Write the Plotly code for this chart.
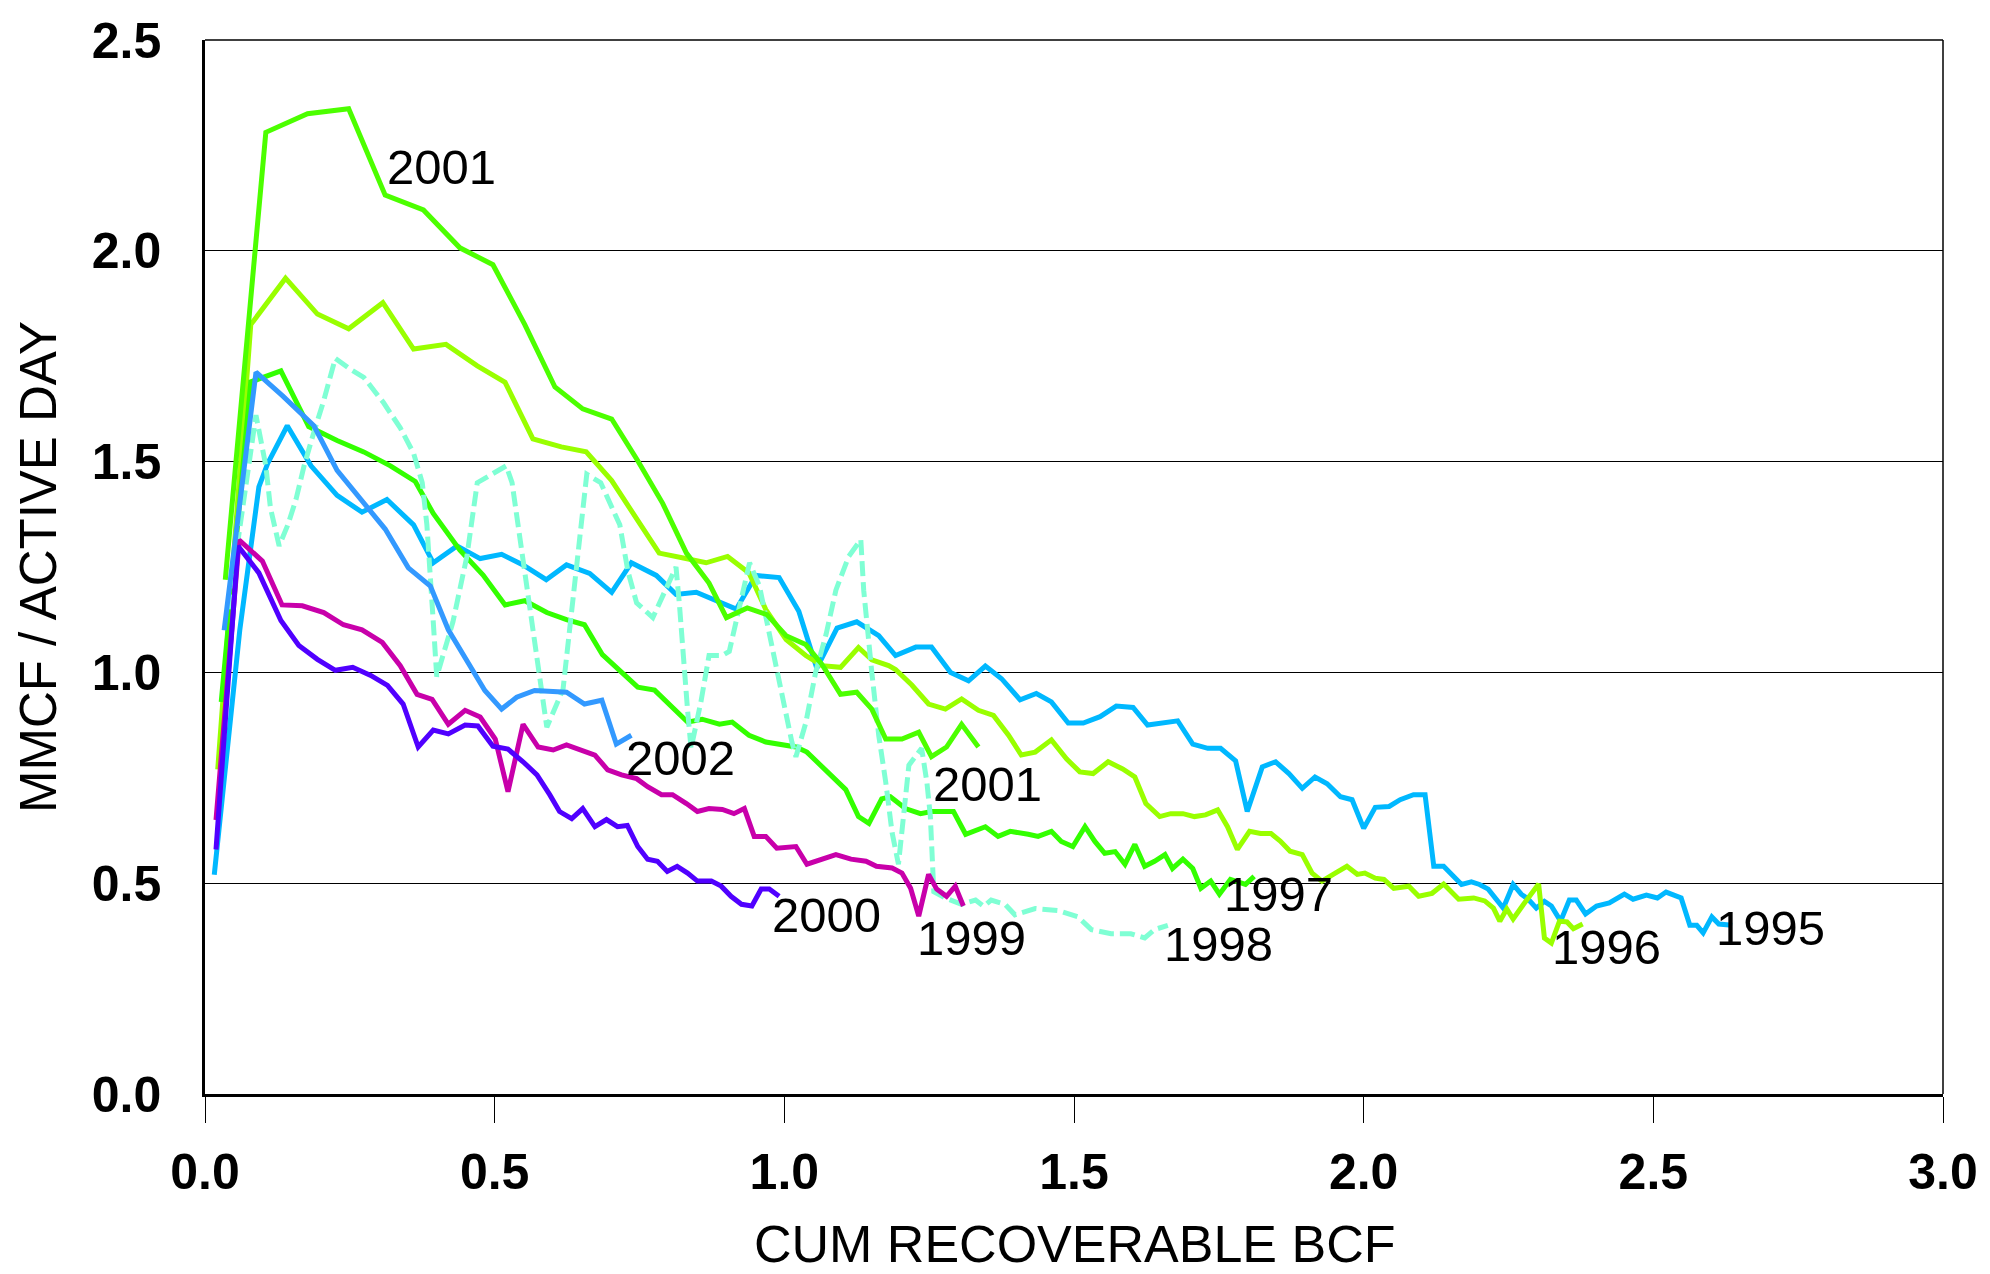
import plotly.graph_objects as go

# ---------------- data ----------------
x_1995 = [0.016,0.06,0.093,0.108,0.142,0.183,0.228,0.271,0.314,0.36,0.394,0.435,0.475,0.512,0.549,0.589,0.624,0.664,0.702,0.736,0.779,0.813,0.848,0.882,0.917,0.951,0.991,1.025,1.056,1.091,1.125,1.163,1.192,1.227,1.254,1.287,1.318,1.347,1.375,1.407,1.435,1.461,1.49,1.516,1.545,1.573,1.602,1.627,1.653,1.679,1.705,1.731,1.753,1.779,1.799,1.825,1.848,1.871,1.894,1.916,1.937,1.96,1.98,2.0,2.02,2.044,2.063,2.086,2.106,2.121,2.138,2.155,2.169,2.186,2.2,2.215,2.23,2.241,2.258,2.272,2.284,2.298,2.312,2.324,2.34,2.355,2.367,2.383,2.402,2.424,2.45,2.465,2.488,2.507,2.522,2.548,2.563,2.575,2.586,2.601,2.613,2.636]
y_1995 = [0.52,1.10,1.44,1.495,1.585,1.49,1.42,1.38,1.41,1.35,1.26,1.30,1.27,1.28,1.255,1.22,1.255,1.235,1.19,1.26,1.23,1.185,1.19,1.17,1.15,1.23,1.225,1.145,1.01,1.105,1.12,1.087,1.04,1.06,1.06,1.0,0.98,1.015,0.985,0.935,0.95,0.93,0.88,0.88,0.895,0.92,0.917,0.875,0.88,0.885,0.83,0.82,0.82,0.79,0.67,0.776,0.788,0.76,0.725,0.752,0.736,0.705,0.698,0.63,0.68,0.682,0.698,0.71,0.71,0.54,0.54,0.517,0.497,0.503,0.497,0.486,0.462,0.441,0.497,0.474,0.462,0.441,0.457,0.446,0.41,0.46,0.46,0.427,0.446,0.453,0.474,0.462,0.472,0.465,0.479,0.465,0.40,0.40,0.382,0.42,0.403,0.40]

x_1996 = [0.022,0.079,0.139,0.194,0.248,0.307,0.36,0.416,0.47,0.518,0.566,0.615,0.658,0.702,0.75,0.784,0.83,0.865,0.902,0.939,0.968,1.003,1.037,1.065,1.097,1.128,1.151,1.18,1.192,1.22,1.249,1.278,1.306,1.335,1.361,1.387,1.409,1.433,1.461,1.487,1.51,1.533,1.559,1.584,1.605,1.624,1.648,1.667,1.688,1.708,1.727,1.748,1.765,1.782,1.803,1.822,1.84,1.856,1.873,1.894,1.911,1.928,1.951,1.971,1.989,2.002,2.02,2.035,2.052,2.078,2.095,2.118,2.138,2.164,2.19,2.209,2.224,2.235,2.247,2.258,2.276,2.302,2.312,2.324,2.338,2.351,2.362,2.378]
y_1996 = [0.77,1.825,1.935,1.85,1.815,1.877,1.767,1.778,1.727,1.688,1.554,1.535,1.523,1.455,1.354,1.283,1.27,1.26,1.275,1.236,1.149,1.078,1.04,1.016,1.012,1.059,1.03,1.016,1.007,0.97,0.925,0.913,0.937,0.91,0.898,0.851,0.804,0.811,0.84,0.795,0.764,0.76,0.788,0.771,0.752,0.689,0.658,0.665,0.665,0.658,0.662,0.674,0.634,0.58,0.623,0.618,0.618,0.60,0.576,0.568,0.524,0.505,0.524,0.54,0.521,0.524,0.512,0.509,0.488,0.493,0.469,0.476,0.498,0.462,0.465,0.458,0.441,0.41,0.439,0.415,0.45,0.498,0.37,0.358,0.41,0.408,0.392,0.403]

x_1997 = [0.028,0.079,0.131,0.179,0.228,0.274,0.32,0.363,0.394,0.44,0.48,0.518,0.552,0.59,0.624,0.655,0.686,0.719,0.747,0.776,0.805,0.833,0.858,0.888,0.91,0.939,0.968,0.996,1.02,1.039,1.072,1.106,1.128,1.146,1.168,1.183,1.209,1.235,1.254,1.292,1.313,1.347,1.369,1.39,1.421,1.438,1.461,1.478,1.498,1.519,1.536,1.553,1.571,1.588,1.605,1.622,1.639,1.657,1.67,1.688,1.705,1.719,1.736,1.751,1.77,1.796,1.811]
y_1997 = [0.93,1.689,1.715,1.583,1.55,1.523,1.49,1.453,1.377,1.29,1.231,1.16,1.17,1.142,1.125,1.113,1.042,1.0,0.965,0.958,0.918,0.882,0.889,0.877,0.882,0.851,0.835,0.828,0.823,0.811,0.769,0.722,0.658,0.642,0.70,0.705,0.677,0.665,0.67,0.67,0.616,0.634,0.611,0.623,0.616,0.611,0.623,0.599,0.587,0.634,0.599,0.571,0.575,0.545,0.592,0.54,0.552,0.568,0.535,0.557,0.535,0.488,0.505,0.474,0.509,0.497,0.516]

x_1998 = [0.04,0.088,0.105,0.113,0.128,0.143,0.157,0.171,0.188,0.205,0.225,0.25,0.274,0.308,0.337,0.36,0.375,0.383,0.394,0.40,0.428,0.452,0.47,0.483,0.52,0.53,0.544,0.561,0.578,0.59,0.618,0.633,0.644,0.659,0.683,0.716,0.73,0.745,0.773,0.796,0.813,0.819,0.824,0.833,0.839,0.856,0.87,0.893,0.905,0.917,0.928,0.94,0.957,0.98,0.996,1.013,1.02,1.037,1.054,1.072,1.089,1.111,1.132,1.137,1.151,1.163,1.175,1.186,1.197,1.203,1.215,1.237,1.246,1.252,1.258,1.278,1.306,1.33,1.344,1.357,1.381,1.398,1.433,1.473,1.507,1.53,1.564,1.598,1.622,1.639,1.662]
y_1998 = [1.15,1.61,1.49,1.39,1.30,1.35,1.41,1.49,1.57,1.645,1.745,1.72,1.70,1.64,1.58,1.52,1.45,1.35,1.12,0.99,1.12,1.275,1.45,1.46,1.49,1.45,1.31,1.16,0.98,0.87,0.96,1.15,1.27,1.47,1.45,1.35,1.24,1.165,1.13,1.20,1.25,1.16,1.06,0.91,0.82,0.93,1.04,1.04,1.05,1.12,1.195,1.26,1.205,1.05,0.94,0.835,0.80,0.88,1.00,1.09,1.195,1.275,1.315,1.195,1.00,0.85,0.74,0.62,0.545,0.62,0.78,0.82,0.74,0.66,0.48,0.465,0.45,0.46,0.445,0.46,0.45,0.425,0.44,0.435,0.42,0.39,0.38,0.38,0.37,0.39,0.40]

x_1999 = [0.019,0.059,0.099,0.133,0.168,0.205,0.239,0.271,0.306,0.337,0.366,0.392,0.42,0.449,0.475,0.501,0.523,0.549,0.575,0.601,0.624,0.647,0.673,0.695,0.719,0.745,0.764,0.788,0.807,0.831,0.85,0.87,0.893,0.913,0.931,0.948,0.968,0.987,1.02,1.039,1.065,1.089,1.115,1.141,1.159,1.186,1.203,1.218,1.232,1.249,1.263,1.28,1.295,1.309]
y_1999 = [0.65,1.314,1.264,1.16,1.158,1.142,1.113,1.101,1.071,1.016,0.948,0.936,0.877,0.91,0.894,0.842,0.717,0.877,0.823,0.816,0.828,0.816,0.804,0.769,0.757,0.748,0.729,0.71,0.71,0.689,0.67,0.677,0.675,0.665,0.677,0.611,0.611,0.583,0.587,0.545,0.557,0.568,0.557,0.552,0.54,0.536,0.524,0.488,0.422,0.521,0.486,0.469,0.493,0.446]

x_2000 = [0.019,0.057,0.093,0.131,0.162,0.194,0.225,0.255,0.286,0.315,0.342,0.368,0.394,0.42,0.449,0.471,0.497,0.523,0.549,0.573,0.595,0.612,0.633,0.652,0.673,0.693,0.712,0.729,0.747,0.764,0.781,0.798,0.815,0.833,0.85,0.874,0.891,0.908,0.926,0.944,0.96,0.974,0.991]
y_2000 = [0.58,1.30,1.236,1.123,1.064,1.031,1.005,1.012,0.993,0.969,0.925,0.823,0.863,0.854,0.875,0.873,0.825,0.818,0.788,0.757,0.71,0.67,0.653,0.677,0.634,0.651,0.634,0.637,0.587,0.557,0.552,0.528,0.54,0.524,0.505,0.505,0.493,0.469,0.45,0.446,0.486,0.486,0.469]

x_2001 = [0.035,0.105,0.177,0.248,0.311,0.377,0.44,0.497,0.552,0.604,0.652,0.702,0.747,0.79,0.831,0.87,0.9,0.936,0.97,1.003,1.037,1.065,1.097,1.125,1.151,1.175,1.203,1.232,1.254,1.28,1.306,1.335]
y_2001 = [1.22,2.281,2.325,2.337,2.132,2.097,2.007,1.967,1.825,1.677,1.625,1.601,1.502,1.401,1.283,1.212,1.13,1.153,1.137,1.087,1.066,1.019,0.948,0.953,0.913,0.842,0.842,0.858,0.80,0.823,0.877,0.823]

x_2002 = [0.033,0.088,0.134,0.165,0.188,0.228,0.268,0.311,0.351,0.389,0.42,0.458,0.483,0.512,0.538,0.569,0.624,0.655,0.685,0.71,0.736]
y_2002 = [1.10,1.712,1.656,1.613,1.585,1.479,1.413,1.34,1.248,1.205,1.101,1.012,0.957,0.913,0.941,0.957,0.953,0.925,0.934,0.83,0.851]

label_text = ["2001", "2002", "2001", "2000", "1999", "1998", "1997", "1996", "1995"]
label_x = [0.408, 0.82, 1.35, 1.072, 1.323, 1.749, 1.853, 2.42, 2.703]
label_y = [2.198, 0.797, 0.736, 0.425, 0.37, 0.356, 0.474, 0.349, 0.394]

x_ticks = [0.0, 0.5, 1.0, 1.5, 2.0, 2.5, 3.0]
y_ticks = [0.0, 0.5, 1.0, 1.5, 2.0, 2.5]
x_title = "CUM RECOVERABLE BCF"
y_title = "MMCF / ACTIVE DAY"

# ---------------- figure ----------------
FONT = "Liberation Sans, Arial, sans-serif"
series = [
    ("1995", x_1995, y_1995, "#00B8FF", "solid"),
    ("1996", x_1996, y_1996, "#99FF00", "solid"),
    ("1997", x_1997, y_1997, "#33FF00", "solid"),
    ("1998", x_1998, y_1998, "#7FFFD4", "15px,6px"),
    ("1999", x_1999, y_1999, "#C800AA", "solid"),
    ("2000", x_2000, y_2000, "#5000FF", "solid"),
    ("2001", x_2001, y_2001, "#4CFF00", "solid"),
    ("2002", x_2002, y_2002, "#3399FF", "solid"),
]

fig = go.Figure()
for name, xs, ys, color, dash in series:
    fig.add_trace(go.Scatter(x=xs, y=ys, mode="lines", name=name,
                             line=dict(color=color, width=5, dash=dash),
                             showlegend=False, hoverinfo="skip"))

for t, lx, ly in zip(label_text, label_x, label_y):
    fig.add_annotation(x=lx, y=ly, text=t, showarrow=False,
                       xanchor="center", yanchor="middle",
                       font=dict(family=FONT, size=49, color="black"))

# axis titles
fig.add_annotation(xref="paper", yref="paper", x=0.5, y=0, yshift=-150,
                   text=x_title, showarrow=False, xanchor="center", yanchor="middle",
                   font=dict(family=FONT, size=52, color="black"))
fig.add_annotation(xref="paper", yref="paper", x=0, y=0.5, xshift=-167,
                   text=y_title, showarrow=False, textangle=-90,
                   xanchor="center", yanchor="middle",
                   font=dict(family=FONT, size=51, color="black"))

# top/right frame
fig.add_shape(type="line", xref="paper", yref="paper", x0=0, x1=1, y0=1, y1=1,
              line=dict(color="black", width=1.5))
fig.add_shape(type="line", xref="paper", yref="paper", x0=1, x1=1, y0=0, y1=1,
              line=dict(color="black", width=1.5))

fig.update_layout(
    width=1990, height=1274,
    margin=dict(l=205, r=38, t=32, b=180),
    paper_bgcolor="white", plot_bgcolor="white",
    font=dict(family=FONT, color="black"),
    xaxis=dict(range=[0, 3], tickvals=x_ticks, ticktext=[f"{v:.1f}" for v in x_ticks],
               showgrid=False, zeroline=False, showline=True, linecolor="black",
               linewidth=2.5, ticks="outside", ticklen=26, tickwidth=1, tickcolor="black",
               ticklabelstandoff=6,
               tickfont=dict(family=FONT, size=50, color="black", weight="bold")),
    yaxis=dict(range=[0, 2.5], tickvals=y_ticks, ticktext=[f"{v:.1f}" for v in y_ticks],
               showgrid=True, gridcolor="black", gridwidth=1, zeroline=False,
               showline=True, linecolor="black", linewidth=2.5, ticks="",
               ticklabelstandoff=31,
               tickfont=dict(family=FONT, size=50, color="black", weight="bold")),
)

fig.write_html("out.html", config={"displayModeBar": False},
               post_script="document.body.style.margin='0';document.body.style.overflow='hidden';")
